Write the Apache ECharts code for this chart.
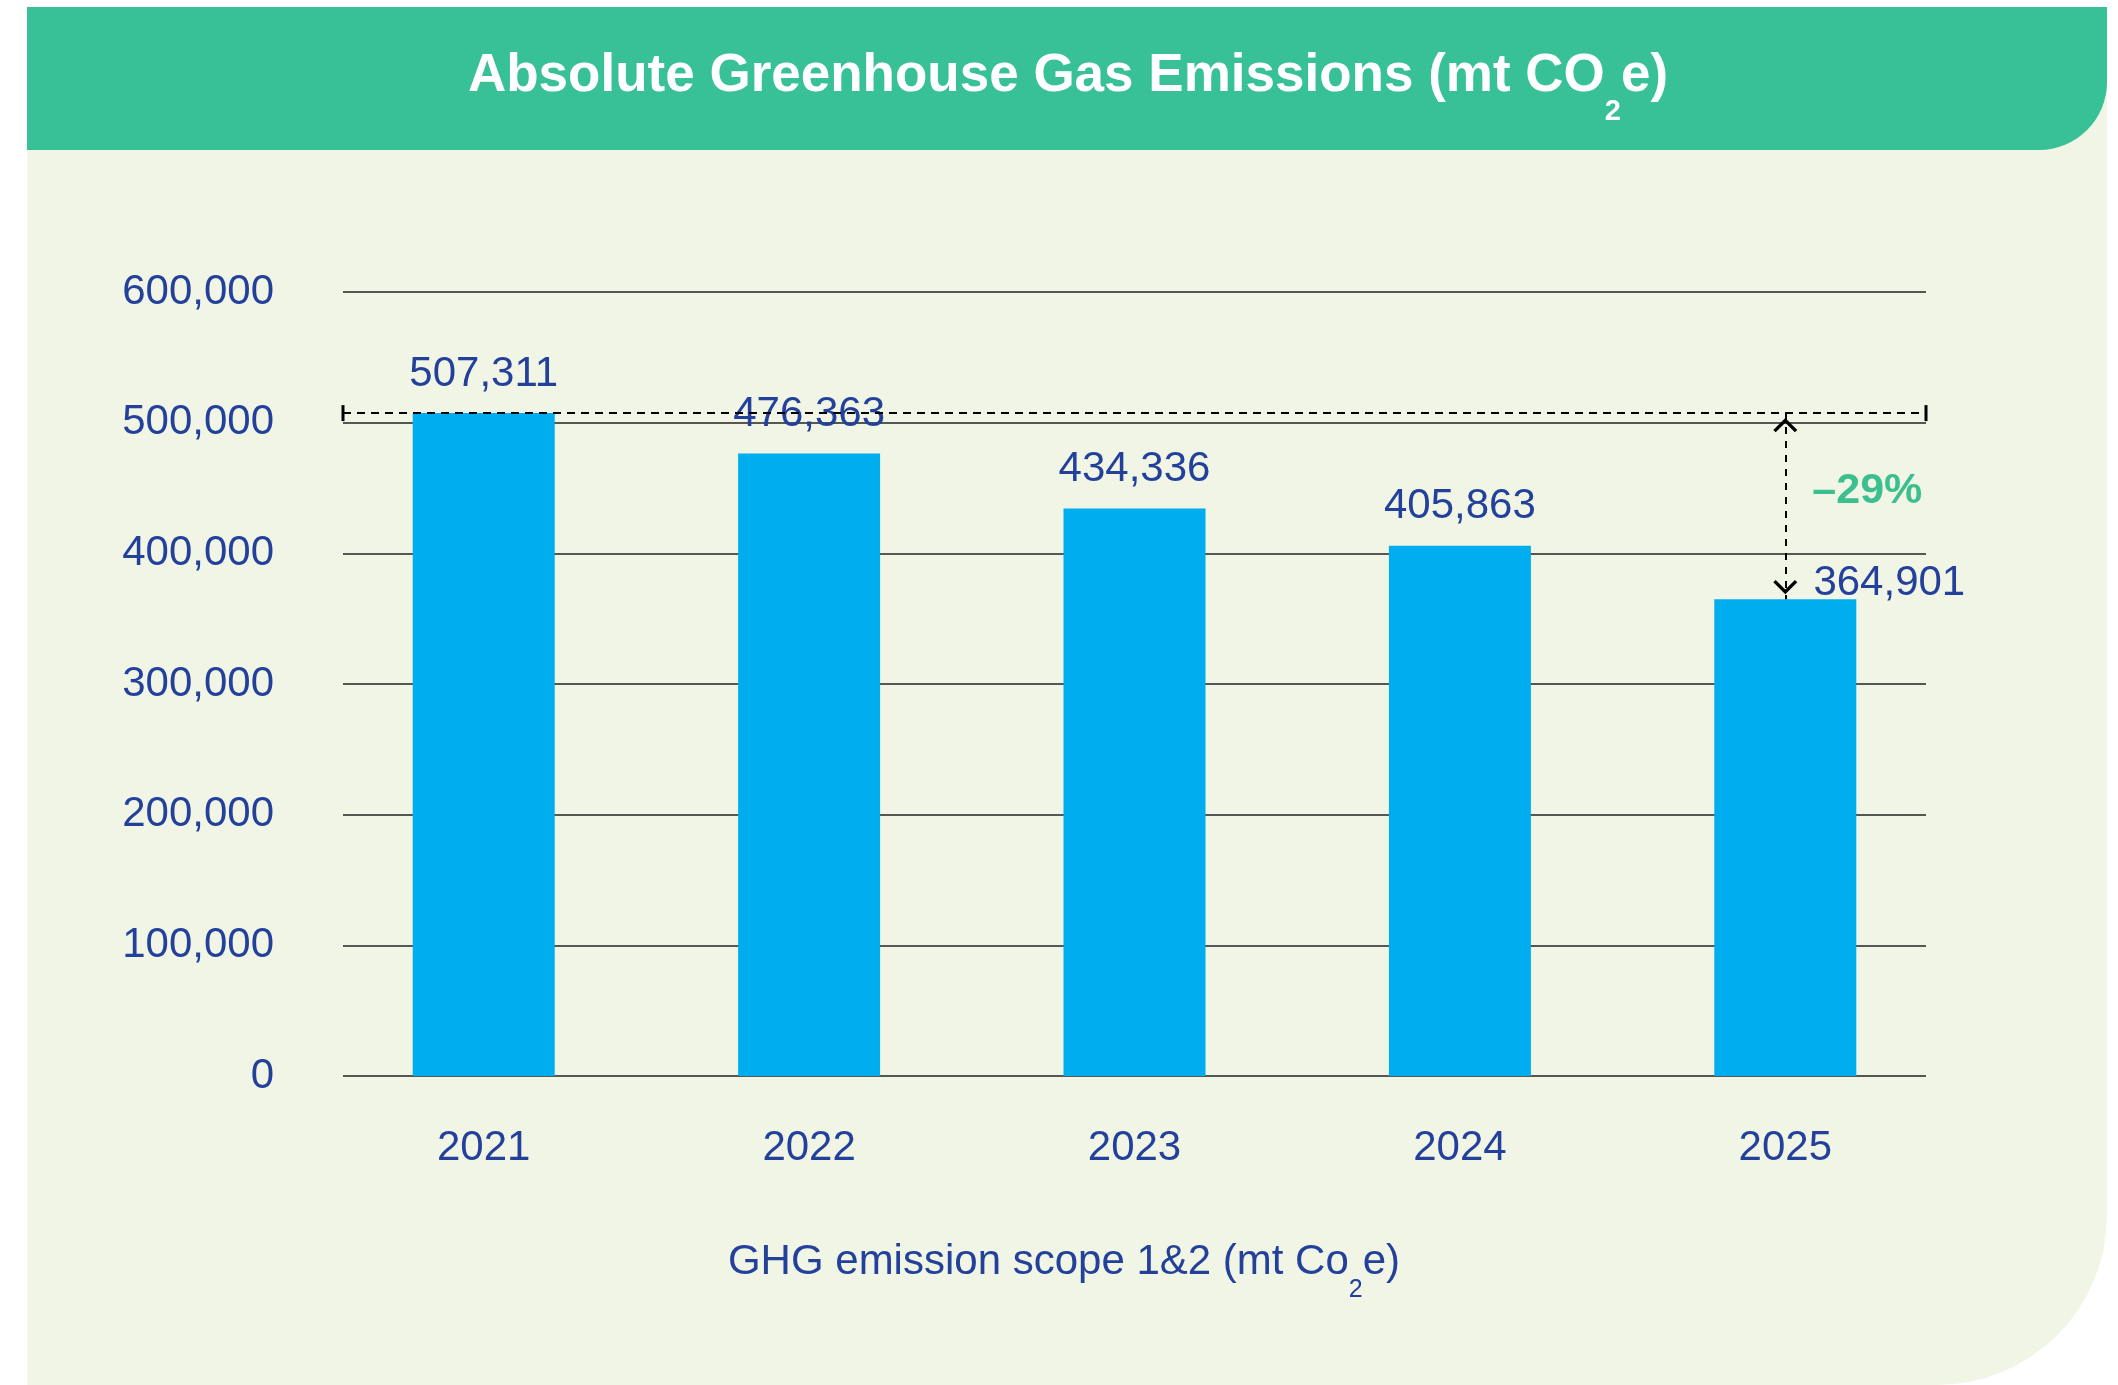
<!DOCTYPE html>
<html>
<head>
<meta charset="utf-8">
<script src="https://cdn.jsdelivr.net/npm/echarts@6/dist/echarts.min.js"></script>
<style>
html,body{margin:0;padding:0;background:#ffffff;}
#chart{width:2118px;height:1385px;}
</style>
</head>
<body>
<div id="chart"></div>
<script>
// ---- data ----
const categories = ['2021', '2022', '2023', '2024', '2025'];
const emissions = [507311, 476363, 434336, 405863, 364901];
const yTicks = [0, 100000, 200000, 300000, 400000, 500000, 600000];
const changeLabel = '\u201329%';
const titleParts = ['Absolute Greenhouse Gas Emissions (mt CO', '2', 'e)'];
const captionParts = ['GHG emission scope 1&2 (mt Co', '2', 'e)'];

// ---- styling ----
const FONT = '"Liberation Sans", Arial, Helvetica, sans-serif';
const BLUE = '#23409A';
const BAR = '#00AEEF';
const GREEN = '#38C096';
const PANEL = '#F1F5E5';
const fmt = v => Number(v).toLocaleString('en-US');

const yMin = yTicks[0];
const yMax = yTicks[yTicks.length - 1];
const yStep = yTicks[1] - yTicks[0];

// chevron with tip at top; extra point keeps the tip slightly inside the line end
const chevron = 'path://M12,-24.1 L12,-24.1 M12,0 L24,12 L21.6,14.4 L12,4.8 L2.4,14.4 L0,12 Z';

const first = 0, last = emissions.length - 1;

const barData = emissions.map((v, i) => i === last
  ? { value: v, label: { offset: [104, 23] } }
  : v);

const chart = echarts.init(document.getElementById('chart'), null, { renderer: 'canvas' });

chart.setOption({
  animation: false,
  backgroundColor: '#ffffff',
  textStyle: { fontFamily: FONT },
  graphic: [
    { type: 'rect', z: -10, shape: { x: 27, y: 7, width: 2080, height: 1378, r: [0, 0, 170, 0] }, style: { fill: PANEL } },
    { type: 'rect', z: -9, shape: { x: 27, y: 7, width: 2080, height: 143, r: [0, 0, 68, 0] }, style: { fill: GREEN } },
    {
      type: 'text', z: 10, x: 1068, y: 76,
      style: {
        text: '{a|' + titleParts[0] + '}{s|' + titleParts[1] + '}{a|' + titleParts[2] + '}',
        align: 'center', verticalAlign: 'middle',
        rich: {
          a: { fill: '#ffffff', fontSize: 53, fontWeight: 'bold', fontFamily: FONT },
          s: { fill: '#ffffff', fontSize: 29, fontWeight: 'bold', fontFamily: FONT, padding: [72, 0, 0, 0] }
        }
      }
    },
    {
      type: 'text', z: 10, x: 1064, y: 1262,
      style: {
        text: '{a|' + captionParts[0] + '}{s|' + captionParts[1] + '}{a|' + captionParts[2] + '}',
        align: 'center', verticalAlign: 'middle',
        rich: {
          a: { fill: BLUE, fontSize: 42, fontFamily: FONT },
          s: { fill: BLUE, fontSize: 25, fontFamily: FONT, padding: [56, 0, 0, 0] }
        }
      }
    }
  ],
  grid: [
    { left: 343, right: 2118 - 1926, top: 292, bottom: 1385 - 1076, containLabel: false },
    { left: 321, right: 2118 - 1948, top: 292, bottom: 1385 - 1076, containLabel: false }
  ],
  xAxis: [
    { gridIndex: 0, type: 'value', min: 0, max: 1, show: false },
    {
      gridIndex: 1, type: 'category', data: categories,
      axisLine: { show: false }, axisTick: { show: false },
      axisLabel: { color: BLUE, fontSize: 42, fontFamily: FONT, margin: 51 }
    }
  ],
  yAxis: [
    {
      gridIndex: 0, type: 'value', min: yMin, max: yMax, interval: yStep,
      axisLine: { show: false }, axisTick: { show: false },
      axisLabel: { color: BLUE, fontSize: 42, fontFamily: FONT, margin: 69, formatter: fmt },
      splitLine: { show: true, lineStyle: { color: '#222222', width: 1.6 } }
    },
    {
      gridIndex: 1, type: 'value', min: yMin, max: yMax, interval: yStep,
      show: false, splitLine: { show: false }
    }
  ],
  series: [
    {
      type: 'line', xAxisIndex: 0, yAxisIndex: 0, data: [], silent: true,
      markLine: {
        silent: true, animation: false,
        symbol: ['rect', 'rect'], symbolSize: [16, 3],
        label: { show: false },
        lineStyle: { color: '#000000', width: 2, type: [8, 6] },
        emphasis: { disabled: true },
        data: [[{ coord: [0, emissions[first]] }, { coord: [1, emissions[first]] }]]
      }
    },
    {
      type: 'bar', xAxisIndex: 1, yAxisIndex: 1, data: barData,
      barWidth: 142,
      itemStyle: { color: BAR },
      label: {
        show: true, position: 'top', distance: 18,
        color: BLUE, fontSize: 42, fontFamily: FONT,
        formatter: p => fmt(p.value)
      },
      markLine: {
        silent: true, animation: false,
        symbol: [chevron, chevron], symbolSize: [24, 38.5],
        label: { show: false },
        lineStyle: { color: '#000000', width: 2, type: [7, 7] },
        emphasis: { disabled: true },
        data: [[{ coord: [last, emissions[first]] }, { coord: [last, emissions[last]] }]]
      },
      markPoint: {
        silent: true, animation: false,
        symbol: 'circle', symbolSize: 1,
        itemStyle: { color: 'rgba(0,0,0,0)' },
        label: {
          show: true, formatter: changeLabel, position: 'inside',
          color: '#3CBF8F', fontSize: 43, fontWeight: 'bold', fontFamily: FONT,
          offset: [82, -15]
        },
        data: [{ coord: [last, (emissions[first] + emissions[last]) / 2] }]
      }
    }
  ]
});
</script>
</body>
</html>
